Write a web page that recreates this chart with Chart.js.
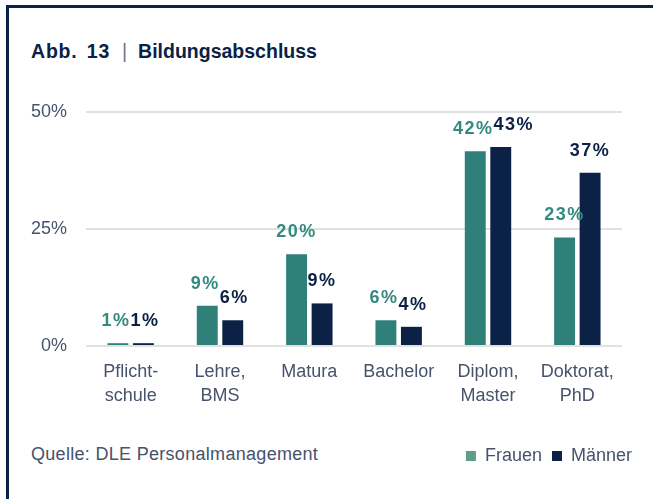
<!DOCTYPE html>
<html>
<head>
<meta charset="utf-8">
<script src="https://cdn.jsdelivr.net/npm/chart.js@4.4.1/dist/chart.umd.min.js"></script>
<style>
  html,body{margin:0;padding:0;background:#fff;}
  body{width:653px;height:499px;position:relative;overflow:hidden;font-family:"Liberation Sans",Arial,sans-serif;}
  #frame{position:absolute;left:6px;top:5px;width:700px;height:600px;border-left:3px solid #0b2145;border-top:3px solid #0b2145;}
  #title{position:absolute;left:31px;top:40px;font-size:19.5px;font-weight:bold;color:#0b2145;white-space:nowrap;}
  #title .abb{letter-spacing:0.8px;word-spacing:3px;}
  #title .sep{font-weight:normal;color:#6b7488;margin:0 11px 0 12px;}
  #src{position:absolute;left:31px;top:444px;font-size:18px;letter-spacing:0.3px;color:#46536b;white-space:nowrap;}
  #wrap{position:absolute;left:0;top:0;width:653px;height:499px;}
</style>
</head>
<body>
<div id="frame"></div>
<div id="title"><span class="abb">Abb. 13</span><span class="sep">|</span>Bildungsabschluss</div>
<div id="src">Quelle: DLE Personalmanagement</div>
<div id="wrap"><canvas id="c" width="653" height="499"></canvas></div>
<script>
const categories=[["Pflicht-","schule"],["Lehre,","BMS"],"Matura","Bachelor",["Diplom,","Master"],["Doktorat,","PhD"]];
const frauen=[0.6,8.6,19.6,5.5,41.6,23.2];
const maenner=[0.6,5.5,9.1,4.1,42.5,37.0];
const yTicks=[0,25,50];

const TEAL="#2e8078", NAVY="#0b2145", TXT="#46536b", GRID="#e1e1e1";
const FONT="'Liberation Sans', Arial, sans-serif";

// Prozentwerte über den Balken (Männer-Label rutscht nach rechts, wenn es sich mit dem Frauen-Label überlappt)
const valueLabels={
  id:"valueLabels",
  afterDatasetsDraw(chart){
    const ctx=chart.ctx;
    ctx.save();
    ctx.font="bold 18px "+FONT;
    ctx.textAlign="center"; ctx.textBaseline="alphabetic";
    if("letterSpacing" in ctx) ctx.letterSpacing="1.5px";
    const mF=chart.getDatasetMeta(0), mM=chart.getDatasetMeta(1);
    const dsF=chart.data.datasets[0], dsM=chart.data.datasets[1];
    mF.data.forEach((bf,j)=>{
      const bm=mM.data[j];
      const tF=Math.round(dsF.data[j])+"%", tM=Math.round(dsM.data[j])+"%";
      const wF=ctx.measureText(tF).width, wM=ctx.measureText(tM).width;
      let shift=0;
      if(Math.abs(bf.y-bm.y)<20){
        const overlap=(wF+wM)/2-(bm.x-bf.x);
        if(overlap>3) shift=overlap;
      }
      ctx.fillStyle=dsF.labelColor;
      ctx.fillText(tF, bf.x-(shift>0?2:0), bf.y-17);
      ctx.fillStyle=dsM.labelColor;
      ctx.fillText(tM, bm.x+(shift>0?shift-2:0), bm.y-17);
    });
    ctx.restore();
  }
};

// Legende bis an den rechten Rand schieben
const legendShift={
  id:"legendShift",
  afterLayout(chart){ if(chart.legend){ chart.legend.right+=20; chart.legend.left+=20; } }
};

new Chart(document.getElementById("c"),{
  type:"bar",
  data:{labels:categories,datasets:[
    {label:"Frauen",data:frauen,backgroundColor:TEAL,labelColor:"#358a7f",legendColor:"#5e9f8c"},
    {label:"Männer",data:maenner,backgroundColor:NAVY,labelColor:NAVY,legendColor:NAVY}
  ]},
  options:{
    responsive:false,animation:false,devicePixelRatio:1,
    layout:{padding:{top:112,right:31,left:0,bottom:24}},
    datasets:{bar:{categoryPercentage:0.571,barPercentage:0.82}},
    plugins:{
      legend:{position:"bottom",align:"end",
        labels:{color:TXT,font:{size:18,family:FONT},boxWidth:10,boxHeight:10,padding:10,
          generateLabels(chart){
            return chart.data.datasets.map((ds,i)=>({text:ds.label,fillStyle:ds.legendColor,strokeStyle:ds.legendColor,lineWidth:0,datasetIndex:i,fontColor:TXT}));
          }}},
      tooltip:{enabled:false}
    },
    scales:{
      x:{grid:{display:false},border:{display:false},
        ticks:{color:TXT,font:{size:18,family:FONT,lineHeight:1.33},padding:6,maxRotation:0,autoSkip:false},
        afterFit(s){s.height=91;}},
      y:{min:0,max:50,
        afterBuildTicks(s){s.ticks=yTicks.map(v=>({value:v}));},
        grid:{color:GRID,lineWidth:2,drawTicks:false},border:{display:false},
        ticks:{color:TXT,font:{size:18,family:FONT},padding:19,callback:v=>v+"%"},
        afterFit(s){s.width=86;}}
    }
  },
  plugins:[valueLabels,legendShift]
});
</script>
</body>
</html>
